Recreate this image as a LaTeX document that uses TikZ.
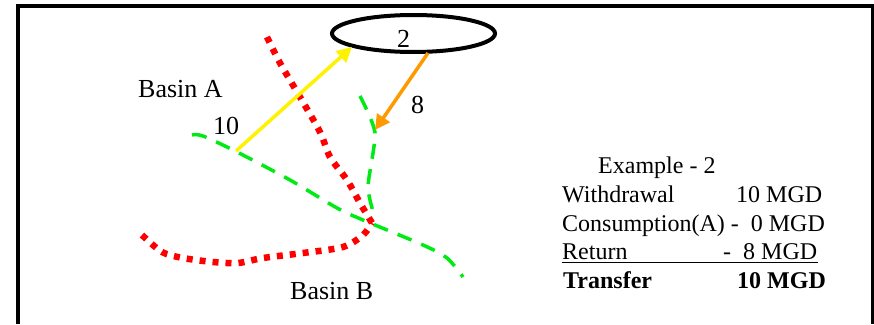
\documentclass[tikz,border=0pt]{standalone}
\usepackage{fontspec}
\setmainfont{Liberation Serif}
\usetikzlibrary{shapes.geometric,arrows.meta}
\definecolor{rivergreen}{RGB}{0,235,20}
\definecolor{floworange}{RGB}{255,153,0}
\tikzset{
  label/.style={inner sep=0pt,anchor=base west,font=\fontsize{24}{28}\selectfont},
  biglabel/.style={label,font=\fontsize{26}{30}\selectfont},
  boldlabel/.style={label,font=\fontsize{24}{28}\selectfont\bfseries},
  greenriver/.style={draw=rivergreen,line width=3.5pt,dash pattern=on 15pt off 10.5pt},
  redriver/.style={draw=red,line width=6.5pt,dash pattern=on 6pt off 7pt},
  flow/.style={line width=3.5pt,-{Triangle[length=15pt,width=15pt]}}
}
\begin{document}
\begin{tikzpicture}[x=1pt,y=-1pt]
      \useasboundingbox (0,0) rectangle (874,324);
      \draw[line width=4pt] (18,324) -- (18,6) -- (872.5,6) -- (872.5,324);
      \draw[redriver] plot[smooth,tension=.5] coordinates {(267,37) (280,63) (300,97) (320,132) (330,157) (347,180) (360,203) (372,223)};
      \draw[redriver] plot[smooth,tension=.5] coordinates {(142,235) (162,252) (183,258) (213,262) (238,263) (263,258) (303,253) (343,247) (363,235) (372,223)};
      \draw[greenriver] plot[smooth,tension=.5] coordinates {(192,135) (203,136) (237,152) (290,180) (337,208) (363,220) (423,245) (447,258) (463,277)};
      \draw[greenriver] plot[smooth,tension=.4] coordinates {(360,96) (375,133) (368,187) (375,218)};
      \node[draw,ellipse,line width=4pt,minimum width=163pt,minimum height=37pt,inner sep=0pt] (lake) at (413.5,33.5) {};
      \node[biglabel] (two) at (397,47) {2};
      \coordinate (yellowstart) at (236,151);
      \coordinate (yellowend) at (352,47);
      \coordinate (orangestart) at (428,53);
      \coordinate (orangeend) at (375,130);
      \draw[flow,yellow] (yellowstart) -- (yellowend);
      \draw[flow,floworange] (orangestart) -- (orangeend);
      \node[biglabel] (basina) at (138,97) {Basin A};
      \node[biglabel] (basinb) at (290,299) {Basin B};
      \node[biglabel] (ten) at (213,134) {10};
      \node[biglabel] (eight) at (411,113) {8};
      \node[label] (example) at (598,173) {Example - 2};
      \node[label] (withdrawal) at (562,202) {Withdrawal};
      \node[label] (withdrawalval) at (736,202) {10 MGD};
      \node[label] (consumption) at (562,231) {Consumption(A) -\ \ 0 MGD};
      \node[label] (return) at (562,259) {Return};
      \node[label] (returnval) at (723,259) {-\ \ 8 MGD};
      \node[boldlabel] (transfer) at (563,288) {Transfer};
      \node[boldlabel] (transferval) at (737,288) {10 MGD};
      \draw[line width=1pt] (562,262.5) -- (818,262.5);
\end{tikzpicture}
\end{document}
